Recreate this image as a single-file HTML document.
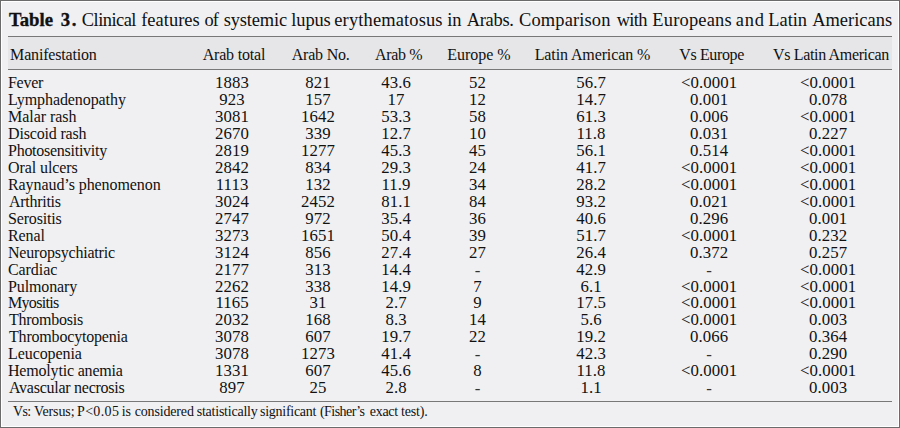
<!DOCTYPE html>
<html><head><meta charset="utf-8"><style>
*{margin:0;padding:0;box-sizing:border-box}
html,body{width:900px;height:428px;overflow:hidden;background:#f0f0f2}
body{position:relative;font-family:"Liberation Serif",serif;color:#111}
.frame{position:absolute;left:0;top:0;width:900px;height:428px;border:1px solid #6b6b6b}
.frame2{position:absolute;left:1px;top:1px;width:898px;height:426px;border:1px solid #ffffff}
.tb{position:absolute;left:9px;top:10px;font-size:18.7px;line-height:20px;white-space:nowrap;font-weight:bold;word-spacing:3px;color:#111;-webkit-text-stroke:0.35px #111}
.tr{position:absolute;left:82.5px;top:10px;font-size:18.45px;line-height:20px;white-space:nowrap;color:#111}
.hbg{position:absolute;left:8px;top:37px;width:884px;height:32px;background:#e6e6e8}
.rule{position:absolute;left:8px;width:884px;height:1px;background:#787878}
.t{position:absolute;font-size:16px;line-height:17px;white-space:nowrap;letter-spacing:-0.05px}
.n{font-size:16.8px;letter-spacing:0.1px;text-indent:0.1px}
.l{left:8px}
.c{width:140px;text-align:center}
.fn{position:absolute;left:12px;font-size:14px;line-height:16px;white-space:nowrap;letter-spacing:-0.2px}
</style></head><body>
<div class="frame"></div><div class="frame2"></div>
<div class="tb">Table <span style="letter-spacing:1.8px">3</span>.</div>
<div class="tr" style="left:81.80px;letter-spacing:-0.529px">Clinical</div><div class="tr" style="left:141.20px;letter-spacing:0.029px">features</div><div class="tr" style="left:204.60px;letter-spacing:-1.000px">of</div><div class="tr" style="left:223.70px;letter-spacing:-0.143px">systemic</div><div class="tr" style="left:291.30px;letter-spacing:-0.125px">lupus</div><div class="tr" style="left:334.30px;letter-spacing:0.142px">erythematosus</div><div class="tr" style="left:447.30px;letter-spacing:-0.200px">in</div><div class="tr" style="left:466.70px;letter-spacing:-0.280px">Arabs.</div><div class="tr" style="left:519.00px;letter-spacing:0.144px">Comparison</div><div class="tr" style="left:616.70px;letter-spacing:-0.667px">with</div><div class="tr" style="left:652.30px;letter-spacing:0.200px">Europeans</div><div class="tr" style="left:735.70px;letter-spacing:0.800px">and</div><div class="tr" style="left:768.30px;letter-spacing:-0.050px">Latin</div><div class="tr" style="left:812.20px;letter-spacing:0.012px">Americans</div>
<div class="hbg"></div>
<div class="rule" style="top:36px"></div>
<div class="rule" style="top:69px"></div>
<div class="rule" style="top:401px"></div>

<div class="t" style="top:46.0px;left:10.10px;letter-spacing:-0.175px">Manifestation</div>
<div class="t" style="top:46.0px;left:202.70px;letter-spacing:-0.189px">Arab total</div>
<div class="t" style="top:46.0px;left:291.70px;letter-spacing:-0.200px">Arab No.</div>
<div class="t" style="top:46.0px;left:375.00px;letter-spacing:-0.340px">Arab %</div>
<div class="t" style="top:46.0px;left:447.30px;letter-spacing:-0.043px">Europe %</div>
<div class="t" style="top:46.0px;left:534.70px;letter-spacing:-0.113px">Latin American %</div>
<div class="t" style="top:46.0px;left:679.20px;letter-spacing:-0.363px">Vs Europe</div>
<div class="t" style="top:46.0px;left:773.00px;letter-spacing:-0.344px">Vs Latin American</div>
<div class="t" style="top:74.10px;left:8.00px;letter-spacing:-0.275px">Fever</div>
<div class="t c n" style="top:74.10px;left:162px">1883</div>
<div class="t c n" style="top:74.10px;left:248px">821</div>
<div class="t c n" style="top:74.10px;left:326px">43.6</div>
<div class="t c n" style="top:74.10px;left:407.5px">52</div>
<div class="t c n" style="top:74.10px;left:521px">56.7</div>
<div class="t c n" style="top:74.10px;left:639px">&lt;0.0001</div>
<div class="t c n" style="top:74.10px;left:758px">&lt;0.0001</div>
<div class="t" style="top:91.05px;left:8.00px;letter-spacing:-0.086px">Lymphadenopathy</div>
<div class="t c n" style="top:91.05px;left:162px">923</div>
<div class="t c n" style="top:91.05px;left:248px">157</div>
<div class="t c n" style="top:91.05px;left:326px">17</div>
<div class="t c n" style="top:91.05px;left:407.5px">12</div>
<div class="t c n" style="top:91.05px;left:521px">14.7</div>
<div class="t c n" style="top:91.05px;left:639px">0.001</div>
<div class="t c n" style="top:91.05px;left:758px">0.078</div>
<div class="t" style="top:108.00px;left:8.00px;letter-spacing:-0.044px">Malar rash</div>
<div class="t c n" style="top:108.00px;left:162px">3081</div>
<div class="t c n" style="top:108.00px;left:248px">1642</div>
<div class="t c n" style="top:108.00px;left:326px">53.3</div>
<div class="t c n" style="top:108.00px;left:407.5px">58</div>
<div class="t c n" style="top:108.00px;left:521px">61.3</div>
<div class="t c n" style="top:108.00px;left:639px">0.006</div>
<div class="t c n" style="top:108.00px;left:758px">&lt;0.0001</div>
<div class="t" style="top:124.95px;left:8.00px;letter-spacing:-0.173px">Discoid rash</div>
<div class="t c n" style="top:124.95px;left:162px">2670</div>
<div class="t c n" style="top:124.95px;left:248px">339</div>
<div class="t c n" style="top:124.95px;left:326px">12.7</div>
<div class="t c n" style="top:124.95px;left:407.5px">10</div>
<div class="t c n" style="top:124.95px;left:521px">11.8</div>
<div class="t c n" style="top:124.95px;left:639px">0.031</div>
<div class="t c n" style="top:124.95px;left:758px">0.227</div>
<div class="t" style="top:141.90px;left:8.00px;letter-spacing:-0.260px">Photosensitivity</div>
<div class="t c n" style="top:141.90px;left:162px">2819</div>
<div class="t c n" style="top:141.90px;left:248px">1277</div>
<div class="t c n" style="top:141.90px;left:326px">45.3</div>
<div class="t c n" style="top:141.90px;left:407.5px">45</div>
<div class="t c n" style="top:141.90px;left:521px">56.1</div>
<div class="t c n" style="top:141.90px;left:639px">0.514</div>
<div class="t c n" style="top:141.90px;left:758px">&lt;0.0001</div>
<div class="t" style="top:158.85px;left:8.00px;letter-spacing:-0.080px">Oral ulcers</div>
<div class="t c n" style="top:158.85px;left:162px">2842</div>
<div class="t c n" style="top:158.85px;left:248px">834</div>
<div class="t c n" style="top:158.85px;left:326px">29.3</div>
<div class="t c n" style="top:158.85px;left:407.5px">24</div>
<div class="t c n" style="top:158.85px;left:521px">41.7</div>
<div class="t c n" style="top:158.85px;left:639px">&lt;0.0001</div>
<div class="t c n" style="top:158.85px;left:758px">&lt;0.0001</div>
<div class="t" style="top:175.80px;left:8.00px;letter-spacing:-0.079px">Raynaud’s phenomenon</div>
<div class="t c n" style="top:175.80px;left:162px">1113</div>
<div class="t c n" style="top:175.80px;left:248px">132</div>
<div class="t c n" style="top:175.80px;left:326px">11.9</div>
<div class="t c n" style="top:175.80px;left:407.5px">34</div>
<div class="t c n" style="top:175.80px;left:521px">28.2</div>
<div class="t c n" style="top:175.80px;left:639px">&lt;0.0001</div>
<div class="t c n" style="top:175.80px;left:758px">&lt;0.0001</div>
<div class="t" style="top:192.75px;left:9.00px;letter-spacing:-0.275px">Arthritis</div>
<div class="t c n" style="top:192.75px;left:162px">3024</div>
<div class="t c n" style="top:192.75px;left:248px">2452</div>
<div class="t c n" style="top:192.75px;left:326px">81.1</div>
<div class="t c n" style="top:192.75px;left:407.5px">84</div>
<div class="t c n" style="top:192.75px;left:521px">93.2</div>
<div class="t c n" style="top:192.75px;left:639px">0.021</div>
<div class="t c n" style="top:192.75px;left:758px">&lt;0.0001</div>
<div class="t" style="top:209.70px;left:8.00px;letter-spacing:-0.175px">Serositis</div>
<div class="t c n" style="top:209.70px;left:162px">2747</div>
<div class="t c n" style="top:209.70px;left:248px">972</div>
<div class="t c n" style="top:209.70px;left:326px">35.4</div>
<div class="t c n" style="top:209.70px;left:407.5px">36</div>
<div class="t c n" style="top:209.70px;left:521px">40.6</div>
<div class="t c n" style="top:209.70px;left:639px">0.296</div>
<div class="t c n" style="top:209.70px;left:758px">0.001</div>
<div class="t" style="top:226.65px;left:8.00px;letter-spacing:-0.100px">Renal</div>
<div class="t c n" style="top:226.65px;left:162px">3273</div>
<div class="t c n" style="top:226.65px;left:248px">1651</div>
<div class="t c n" style="top:226.65px;left:326px">50.4</div>
<div class="t c n" style="top:226.65px;left:407.5px">39</div>
<div class="t c n" style="top:226.65px;left:521px">51.7</div>
<div class="t c n" style="top:226.65px;left:639px">&lt;0.0001</div>
<div class="t c n" style="top:226.65px;left:758px">0.232</div>
<div class="t" style="top:243.60px;left:8.00px;letter-spacing:-0.213px">Neuropsychiatric</div>
<div class="t c n" style="top:243.60px;left:162px">3124</div>
<div class="t c n" style="top:243.60px;left:248px">856</div>
<div class="t c n" style="top:243.60px;left:326px">27.4</div>
<div class="t c n" style="top:243.60px;left:407.5px">27</div>
<div class="t c n" style="top:243.60px;left:521px">26.4</div>
<div class="t c n" style="top:243.60px;left:639px">0.372</div>
<div class="t c n" style="top:243.60px;left:758px">0.257</div>
<div class="t" style="top:260.55px;left:8.00px;letter-spacing:-0.083px">Cardiac</div>
<div class="t c n" style="top:260.55px;left:162px">2177</div>
<div class="t c n" style="top:260.55px;left:248px">313</div>
<div class="t c n" style="top:260.55px;left:326px">14.4</div>
<div class="t c n" style="top:260.55px;left:407.5px"><span style="position:relative;top:1px;color:#333">-</span></div>
<div class="t c n" style="top:260.55px;left:521px">42.9</div>
<div class="t c n" style="top:260.55px;left:639px"><span style="position:relative;top:1px;color:#333">-</span></div>
<div class="t c n" style="top:260.55px;left:758px">&lt;0.0001</div>
<div class="t" style="top:277.50px;left:8.00px;letter-spacing:-0.113px">Pulmonary</div>
<div class="t c n" style="top:277.50px;left:162px">2262</div>
<div class="t c n" style="top:277.50px;left:248px">338</div>
<div class="t c n" style="top:277.50px;left:326px">14.9</div>
<div class="t c n" style="top:277.50px;left:407.5px">7</div>
<div class="t c n" style="top:277.50px;left:521px">6.1</div>
<div class="t c n" style="top:277.50px;left:639px">&lt;0.0001</div>
<div class="t c n" style="top:277.50px;left:758px">&lt;0.0001</div>
<div class="t" style="top:294.45px;left:8.00px;letter-spacing:-0.700px">Myositis</div>
<div class="t c n" style="top:294.45px;left:162px">1165</div>
<div class="t c n" style="top:294.45px;left:248px">31</div>
<div class="t c n" style="top:294.45px;left:326px">2.7</div>
<div class="t c n" style="top:294.45px;left:407.5px">9</div>
<div class="t c n" style="top:294.45px;left:521px">17.5</div>
<div class="t c n" style="top:294.45px;left:639px">&lt;0.0001</div>
<div class="t c n" style="top:294.45px;left:758px">&lt;0.0001</div>
<div class="t" style="top:311.40px;left:9.00px;letter-spacing:-0.256px">Thrombosis</div>
<div class="t c n" style="top:311.40px;left:162px">2032</div>
<div class="t c n" style="top:311.40px;left:248px">168</div>
<div class="t c n" style="top:311.40px;left:326px">8.3</div>
<div class="t c n" style="top:311.40px;left:407.5px">14</div>
<div class="t c n" style="top:311.40px;left:521px">5.6</div>
<div class="t c n" style="top:311.40px;left:639px">&lt;0.0001</div>
<div class="t c n" style="top:311.40px;left:758px">0.003</div>
<div class="t" style="top:328.35px;left:9.00px;letter-spacing:-0.187px">Thrombocytopenia</div>
<div class="t c n" style="top:328.35px;left:162px">3078</div>
<div class="t c n" style="top:328.35px;left:248px">607</div>
<div class="t c n" style="top:328.35px;left:326px">19.7</div>
<div class="t c n" style="top:328.35px;left:407.5px">22</div>
<div class="t c n" style="top:328.35px;left:521px">19.2</div>
<div class="t c n" style="top:328.35px;left:639px">0.066</div>
<div class="t c n" style="top:328.35px;left:758px">0.364</div>
<div class="t" style="top:345.30px;left:8.00px;letter-spacing:-0.078px">Leucopenia</div>
<div class="t c n" style="top:345.30px;left:162px">3078</div>
<div class="t c n" style="top:345.30px;left:248px">1273</div>
<div class="t c n" style="top:345.30px;left:326px">41.4</div>
<div class="t c n" style="top:345.30px;left:407.5px"><span style="position:relative;top:1px;color:#333">-</span></div>
<div class="t c n" style="top:345.30px;left:521px">42.3</div>
<div class="t c n" style="top:345.30px;left:639px"><span style="position:relative;top:1px;color:#333">-</span></div>
<div class="t c n" style="top:345.30px;left:758px">0.290</div>
<div class="t" style="top:362.25px;left:8.00px;letter-spacing:-0.187px">Hemolytic anemia</div>
<div class="t c n" style="top:362.25px;left:162px">1331</div>
<div class="t c n" style="top:362.25px;left:248px">607</div>
<div class="t c n" style="top:362.25px;left:326px">45.6</div>
<div class="t c n" style="top:362.25px;left:407.5px">8</div>
<div class="t c n" style="top:362.25px;left:521px">11.8</div>
<div class="t c n" style="top:362.25px;left:639px">&lt;0.0001</div>
<div class="t c n" style="top:362.25px;left:758px">&lt;0.0001</div>
<div class="t" style="top:379.20px;left:9.00px;letter-spacing:-0.259px">Avascular necrosis</div>
<div class="t c n" style="top:379.20px;left:162px">897</div>
<div class="t c n" style="top:379.20px;left:248px">25</div>
<div class="t c n" style="top:379.20px;left:326px">2.8</div>
<div class="t c n" style="top:379.20px;left:407.5px"><span style="position:relative;top:1px;color:#333">-</span></div>
<div class="t c n" style="top:379.20px;left:521px">1.1</div>
<div class="t c n" style="top:379.20px;left:639px"><span style="position:relative;top:1px;color:#333">-</span></div>
<div class="t c n" style="top:379.20px;left:758px">0.003</div>
<div class="fn" style="top:404px;left:13.10px;letter-spacing:-0.700px">Vs:</div>
<div class="fn" style="top:404px;left:34.00px;letter-spacing:-0.117px">Versus;</div>
<div class="fn" style="top:404px;left:77.00px;letter-spacing:0.340px">P&lt;0.05</div>
<div class="fn" style="top:404px;left:121.70px;letter-spacing:-0.000px">is</div>
<div class="fn" style="top:404px;left:134.70px;letter-spacing:-0.156px">considered</div>
<div class="fn" style="top:404px;left:196.70px;letter-spacing:-0.225px">statistically</div>
<div class="fn" style="top:404px;left:260.00px;letter-spacing:-0.270px">significant</div>
<div class="fn" style="top:404px;left:320.00px;letter-spacing:-0.562px">(Fisher’s</div>
<div class="fn" style="top:404px;left:369.70px;letter-spacing:-0.250px">exact</div>
<div class="fn" style="top:404px;left:400.90px;letter-spacing:-0.140px">test).</div>
</body></html>
